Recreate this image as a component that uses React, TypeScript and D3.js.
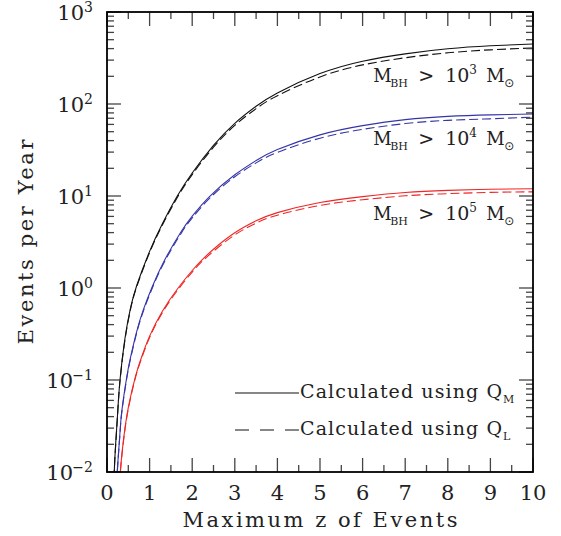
import React, { useEffect, useRef } from "react";
import * as d3 from "d3";

// Events per year vs maximum redshift
// M_BH > 10^3
const z3 = [0.15, 0.17, 0.2, 0.25, 0.305, 0.42, 0.55, 0.7, 1.0, 1.3, 1.65, 2.0, 2.5, 3.0, 3.5, 4, 5, 6, 7, 8, 9, 10];
const qm3 = [0.0045, 0.01, 0.019, 0.044, 0.1, 0.28, 0.6, 1.07, 2.5, 5.0, 10, 17.8, 35.5, 61.7, 94.4, 132, 214, 292, 351, 398, 429, 449];
const ql3 = [0.0044, 0.0097, 0.0185, 0.043, 0.097, 0.27, 0.58, 1.04, 2.43, 4.84, 9.65, 17.1, 33.9, 58.6, 89.0, 123, 197, 266, 318, 360, 388, 406];

// M_BH > 10^4
const z4 = [0.2, 0.24, 0.3, 0.35, 0.46, 0.55, 0.7, 0.85, 1.05, 1.35, 1.75, 2.0, 2.4, 3.0, 3.5, 4, 5, 6, 7, 8, 9, 10];
const qm4 = [0.004, 0.01, 0.025, 0.047, 0.105, 0.174, 0.34, 0.575, 1.0, 2.0, 4.17, 6.03, 9.8, 17.0, 24.3, 32.0, 46.2, 58.2, 67.6, 73.3, 76.2, 78];
const ql4 = [0.0039, 0.0097, 0.0243, 0.0456, 0.102, 0.169, 0.33, 0.555, 0.965, 1.93, 4.0, 5.77, 9.35, 16.2, 22.9, 29.8, 42.5, 53.0, 61.3, 66.4, 69.0, 72];

// M_BH > 10^5
const z5 = [0.25, 0.28, 0.33, 0.4, 0.5, 0.67, 0.82, 1.0, 1.3, 1.67, 2.0, 2.22, 2.5, 3.0, 3.5, 4, 5, 6, 7, 8, 9, 10];
const qm5 = [0.004, 0.0063, 0.0126, 0.025, 0.05, 0.11, 0.182, 0.30, 0.56, 1.0, 1.55, 2.0, 2.64, 3.98, 5.37, 6.6, 8.5, 9.85, 10.9, 11.5, 11.85, 12.0];
const ql5 = [0.0039, 0.0061, 0.0122, 0.0243, 0.0485, 0.107, 0.176, 0.29, 0.54, 0.963, 1.49, 1.92, 2.51, 3.78, 5.07, 6.19, 7.9, 9.1, 10.05, 10.6, 10.95, 11.1];

const massExps = ["3", "4", "5"];
const labelAt = [173, 36, 5.5]; // y value where each mass label sits
const colors = ["#111111", "#3535a8", "#ee2626"];
const xTicks = [0, 1, 2, 3, 4, 5, 6, 7, 8, 9, 10];
const yExps = [-2, -1, 0, 1, 2, 3];
const legendLabels = [
  { text: "Calculated using Q", sub: "M", dash: null },
  { text: "Calculated using Q", sub: "L", dash: "14,11" },
];

const W = 561;
const H = 536;
const FONT = "'DejaVu Serif', serif";

export default function App() {
  const ref = useRef<SVGSVGElement>(null);

  useEffect(() => {
    const svg = d3.select(ref.current);
    svg.selectAll("*").remove();

    const left = 107, right = 533, top = 12, bottom = 472;
    const x = d3.scaleLinear().domain([0, 10]).range([left, right]);
    const y = d3.scaleLog().domain([1e-2, 1e3]).range([bottom, top]);

    svg.append("defs").append("clipPath").attr("id", "plotclip")
      .append("rect").attr("x", left).attr("y", top)
      .attr("width", right - left).attr("height", bottom - top);

    // curves
    const line = d3.line<[number, number]>()
      .x(d => x(d[0]))
      .y(d => y(d[1]))
      .curve(d3.curveNatural);

    const series = [
      { z: z3, qm: qm3, ql: ql3 },
      { z: z4, qm: qm4, ql: ql4 },
      { z: z5, qm: qm5, ql: ql5 },
    ];
    const g = svg.append("g").attr("clip-path", "url(#plotclip)");
    series.forEach((s, i) => {
      g.append("path")
        .attr("d", line(s.z.map((z, j) => [z, s.ql[j]] as [number, number])))
        .attr("fill", "none").attr("stroke", colors[i]).attr("stroke-width", 1.1)
        .attr("stroke-dasharray", "9,4");
      g.append("path")
        .attr("d", line(s.z.map((z, j) => [z, s.qm[j]] as [number, number])))
        .attr("fill", "none").attr("stroke", colors[i]).attr("stroke-width", 1.1);
    });

    // ticks on all four sides, pointing in
    const tk = svg.append("g").attr("stroke", "#444").attr("stroke-width", 1.3);
    const xMinor = d3.range(0.5, 10, 1);
    xTicks.forEach(t => {
      tk.append("line").attr("x1", x(t)).attr("x2", x(t)).attr("y1", bottom).attr("y2", bottom - 14);
      tk.append("line").attr("x1", x(t)).attr("x2", x(t)).attr("y1", top).attr("y2", top + 14);
    });
    xMinor.forEach(t => {
      tk.append("line").attr("x1", x(t)).attr("x2", x(t)).attr("y1", bottom).attr("y2", bottom - 7);
      tk.append("line").attr("x1", x(t)).attr("x2", x(t)).attr("y1", top).attr("y2", top + 7);
    });
    y.ticks().forEach(v => {
      const lg = Math.log10(v);
      const major = Math.abs(lg - Math.round(lg)) < 1e-6;
      const len = major ? 14 : 7;
      tk.append("line").attr("x1", left).attr("x2", left + len).attr("y1", y(v)).attr("y2", y(v));
      tk.append("line").attr("x1", right).attr("x2", right - len).attr("y1", y(v)).attr("y2", y(v));
    });

    // frame
    svg.append("rect").attr("x", left).attr("y", top)
      .attr("width", right - left).attr("height", bottom - top)
      .attr("fill", "none").attr("stroke", "#000").attr("stroke-width", 1.8);

    // x tick labels
    xTicks.forEach(t => {
      svg.append("text").attr("x", x(t)).attr("y", 500)
        .attr("text-anchor", "middle").attr("font-family", FONT).attr("font-size", 21)
        .attr("fill", "#222").text(String(t));
    });

    // y tick labels 10^n
    yExps.forEach(e => {
      const py = y(Math.pow(10, e));
      const sup = e < 0 ? "\u2212" + Math.abs(e) : String(e);
      const supW = e < 0 ? 20 : 9;
      svg.append("text").attr("x", 93 - supW).attr("y", py + 8)
        .attr("text-anchor", "end").attr("font-family", FONT).attr("font-size", 21)
        .attr("fill", "#222").text("10");
      svg.append("text").attr("x", 93).attr("y", py)
        .attr("text-anchor", "end").attr("font-family", FONT).attr("font-size", 14)
        .attr("fill", "#222").text(sup);
    });

    // axis titles
    svg.append("text").attr("x", 320).attr("y", 527)
      .attr("text-anchor", "middle").attr("font-family", FONT).attr("font-size", 21)
      .attr("textLength", 275).attr("lengthAdjust", "spacing")
      .attr("fill", "#222").text("Maximum z of Events");
    svg.append("text").attr("transform", "translate(33,242) rotate(-90)")
      .attr("text-anchor", "middle").attr("font-family", FONT).attr("font-size", 21)
      .attr("textLength", 205).attr("lengthAdjust", "spacing")
      .attr("fill", "#222").text("Events per Year");

    // mass labels
    massExps.forEach((e, i) => {
      const x0 = x(6.25);
      const by = y(labelAt[i]);
      const lab = svg.append("g").attr("font-family", FONT).attr("fill", "#222");
      lab.append("text").attr("x", x0).attr("y", by).attr("font-size", 18).text("M");
      lab.append("text").attr("x", x0 + 17).attr("y", by + 5).attr("font-size", 11).text("BH");
      lab.append("text").attr("x", x0 + 45).attr("y", by).attr("font-size", 19).text(">");
      lab.append("text").attr("x", x0 + 72).attr("y", by).attr("font-size", 19).text("10");
      lab.append("text").attr("x", x0 + 96).attr("y", by - 8).attr("font-size", 12).text(e);
      lab.append("text").attr("x", x0 + 113).attr("y", by).attr("font-size", 18).text("M");
      lab.append("text").attr("x", x0 + 131).attr("y", by + 5).attr("font-size", 12)
        .attr("font-family", "'DejaVu Sans', sans-serif").text("\u2299");
    });

    // legend
    legendLabels.forEach((l, i) => {
      const ly = 393 + i * 37;
      const ln = svg.append("line").attr("x1", 235).attr("x2", 299)
        .attr("y1", ly).attr("y2", ly).attr("stroke", "#111").attr("stroke-width", 1.1);
      if (l.dash) ln.attr("stroke-dasharray", l.dash);
      svg.append("text").attr("x", 300).attr("y", ly + 5)
        .attr("font-family", FONT).attr("font-size", 19)
        .attr("textLength", 202).attr("lengthAdjust", "spacing")
        .attr("fill", "#222").text(l.text);
      svg.append("text").attr("x", 503).attr("y", ly + 10)
        .attr("font-family", FONT).attr("font-size", 11)
        .attr("fill", "#222").text(l.sub);
    });
  }, []);

  return (
    <div style={{ position: "absolute", left: 0, top: 0 }}>
      <svg ref={ref} width={W} height={H} style={{ display: "block", background: "#fff" }} />
    </div>
  );
}
